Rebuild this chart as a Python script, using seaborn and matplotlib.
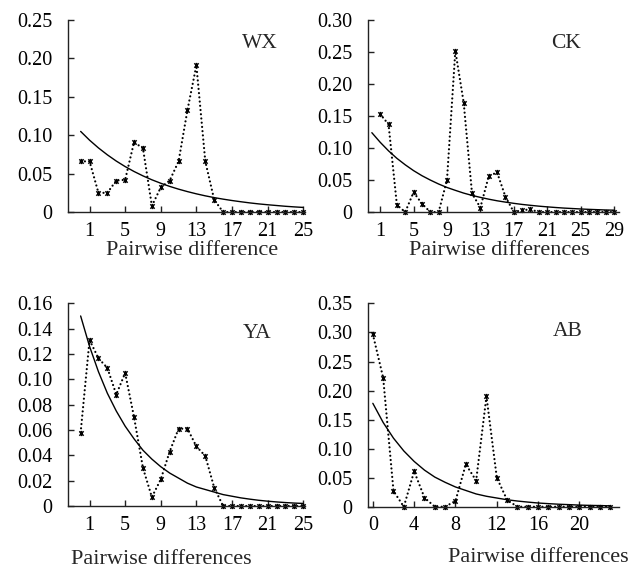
import numpy as np
import pandas as pd
import matplotlib
matplotlib.use("Agg")
import matplotlib.pyplot as plt
from matplotlib.path import Path
import seaborn as sns

# ---------------- data ----------------
wx_x = list(range(0, 26))
wx_obs = [0.066, 0.066, 0.025, 0.025, 0.041, 0.042, 0.091, 0.083, 0.008, 0.032,
          0.041, 0.066, 0.133, 0.191, 0.066, 0.016, 0, 0, 0, 0, 0, 0, 0, 0, 0, 0]
wx_exp = [0.105, 0.0936, 0.0835, 0.0745, 0.0664, 0.0592, 0.0528, 0.0471, 0.0420, 0.0375,
          0.0334, 0.0298, 0.0266, 0.0237, 0.0211, 0.0188, 0.0168, 0.0150, 0.0134, 0.0119,
          0.0106, 0.0095, 0.0085, 0.0075, 0.0067, 0.0060]

ck_x = list(range(1, 30))
ck_obs = [0.153, 0.137, 0.011, 0, 0.031, 0.013, 0, 0, 0.050, 0.252,
          0.171, 0.029, 0.007, 0.056, 0.062, 0.024, 0, 0.003, 0.004, 0,
          0, 0, 0, 0, 0, 0, 0, 0, 0]
ck_exp_x = list(range(0, 30))
ck_exp = [0.124, 0.109, 0.0956, 0.0839, 0.0738, 0.0647, 0.0568, 0.0500, 0.0438, 0.0384,
          0.0339, 0.0296, 0.0260, 0.0229, 0.0201, 0.0176, 0.0155, 0.0136, 0.0119, 0.0105,
          0.0092, 0.0081, 0.0071, 0.0062, 0.0055, 0.0048, 0.0042, 0.0037, 0.0032, 0.0029]

ya_x = list(range(0, 26))
ya_obs = [0.058, 0.131, 0.1166, 0.109, 0.088, 0.105, 0.070, 0.030, 0.007, 0.021,
          0.043, 0.061, 0.061, 0.047, 0.0395, 0.0145, 0, 0, 0, 0, 0, 0, 0, 0, 0, 0]
ya_exp = [0.150, 0.126, 0.106, 0.089, 0.075, 0.063, 0.053, 0.044, 0.037, 0.031,
          0.026, 0.022, 0.018, 0.015, 0.013, 0.011, 0.009, 0.0077, 0.0064, 0.0054,
          0.0045, 0.0038, 0.0032, 0.0027, 0.0023, 0.0020]

ab_x = list(range(0, 24))
ab_obs = [0.297, 0.222, 0.027, 0, 0.061, 0.0155, 0, 0, 0.010, 0.073,
          0.045, 0.190, 0.050, 0.0115, 0, 0, 0, 0, 0, 0, 0, 0, 0, 0]
ab_exp = [0.178, 0.145, 0.118, 0.096, 0.078, 0.063, 0.051, 0.042, 0.034, 0.028,
          0.022, 0.018, 0.015, 0.012, 0.0098, 0.008, 0.0064, 0.0053, 0.0043, 0.0036,
          0.0028, 0.0023, 0.0020, 0.0015]

wx_yticks = [0, 0.05, 0.10, 0.15, 0.20, 0.25]
wx_ylabels = ["0", "0.05", "0.10", "0.15", "0.20", "0.25"]
ck_yticks = [0, 0.05, 0.10, 0.15, 0.20, 0.25, 0.30]
ck_ylabels = ["0", "0.05", "0.10", "0.15", "0.20", "0.25", "0.30"]
ya_yticks = [0, 0.02, 0.04, 0.06, 0.08, 0.10, 0.12, 0.14, 0.16]
ya_ylabels = ["0", "0.02", "0.04", "0.06", "0.08", "0.10", "0.12", "0.14", "0.16"]
ab_yticks = [0, 0.05, 0.10, 0.15, 0.20, 0.25, 0.30, 0.35]
ab_ylabels = ["0", "0.05", "0.10", "0.15", "0.20", "0.25", "0.30", "0.35"]

wx_xticks = [1, 5, 9, 13, 17, 21, 25]
ck_xticks = [1, 5, 9, 13, 17, 21, 25, 29]
ya_xticks = [1, 5, 9, 13, 17, 21, 25]
ab_xticks = [0, 4, 8, 12, 16, 20]

# ---------------- style ----------------
sns.set_theme(style="white")
plt.rcParams["font.family"] = ["Liberation Serif", "DejaVu Serif"]
plt.rcParams["axes.linewidth"] = 1.0
plt.rcParams["axes.edgecolor"] = "#222222"

FS = 14.5

star = Path([(-1, -1), (1, 1), (-1, 1), (1, -1), (0, -1.2), (0, 1.2)],
            [Path.MOVETO, Path.LINETO, Path.MOVETO, Path.LINETO, Path.MOVETO, Path.LINETO])

fig = plt.figure(figsize=(6.42, 5.70), dpi=100)

panels = [
    dict(rect=[0.1055, 0.628, 0.3696, 0.3368], ox=wx_x, oy=wx_obs, ex=wx_x, ey=wx_exp,
         ylim=0.25, yt=wx_yticks, yl=wx_ylabels, xt=wx_xticks, xlim=(-1.45, 25.2),
         name="WX", npos=(0.81, 0.879), xlabel="Pairwise difference", lpos=(0.525, -0.20)),
    dict(rect=[0.5727, 0.628, 0.3914, 0.3368], ox=ck_x, oy=ck_obs, ex=ck_exp_x, ey=ck_exp,
         ylim=0.30, yt=ck_yticks, yl=ck_ylabels, xt=ck_xticks, xlim=(-0.5, 29.6),
         name="CK", npos=(0.789, 0.879), xlabel="Pairwise differences", lpos=(0.522, -0.20)),
    dict(rect=[0.1055, 0.1123, 0.3696, 0.3556], ox=ya_x, oy=ya_obs, ex=ya_x, ey=ya_exp,
         ylim=0.16, yt=ya_yticks, yl=ya_ylabels, xt=ya_xticks, xlim=(-1.45, 25.2),
         name="YA", npos=(0.796, 0.852), xlabel="Pairwise differences", lpos=(0.396, -0.262)),
    dict(rect=[0.5727, 0.111, 0.391, 0.3567], ox=ab_x, oy=ab_obs, ex=ab_x, ey=ab_exp,
         ylim=0.35, yt=ab_yticks, yl=ab_ylabels, xt=ab_xticks, xlim=(-0.5, 23.8),
         name="AB", npos=(0.797, 0.86), xlabel="Pairwise differences", lpos=(0.68, -0.25)),
]

for p in panels:
    ax = fig.add_axes(p["rect"])
    obs = pd.DataFrame({"x": p["ox"], "y": p["oy"]})
    exp = pd.DataFrame({"x": p["ex"], "y": p["ey"]})
    sns.lineplot(data=exp, x="x", y="y", ax=ax, color="black", linewidth=1.0,
                 estimator=None, sort=True)
    sns.lineplot(data=obs, x="x", y="y", ax=ax, color="black", linewidth=1.6,
                 linestyle=(0, (0.01, 1.9)), dash_capstyle="round",
                 marker=star, markersize=3.8, markeredgewidth=1.0,
                 markeredgecolor="black", markerfacecolor="none",
                 estimator=None, sort=True, clip_on=False)
    ax.set_xlim(*p["xlim"])
    ax.set_ylim(0, p["ylim"])
    ax.set_yticks(p["yt"])
    ax.set_yticklabels(p["yl"])
    ax.set_xticks(p["xt"])
    ax.set_xticklabels([str(t) for t in p["xt"]])
    ax.tick_params(axis="y", direction="in", length=4, width=1.0, pad=11,
                   labelsize=FS, left=True, colors="#222222", labelcolor="black")
    ax.tick_params(axis="x", direction="in", length=4, width=1.0, pad=7,
                   labelsize=FS, bottom=True, colors="#222222", labelcolor="black")
    sns.despine(ax=ax, top=True, right=True)
    ax.set_xlabel("")
    ax.set_ylabel("")
    ax.text(p["npos"][0], p["npos"][1], p["name"], transform=ax.transAxes,
            ha="center", va="center", fontsize=FS + 1)
    ax.text(p["lpos"][0], p["lpos"][1], p["xlabel"], transform=ax.transAxes,
            ha="center", va="center", fontsize=FS + 1.5)
    ax.grid(False)

fig.savefig("out.png", dpi=100)
